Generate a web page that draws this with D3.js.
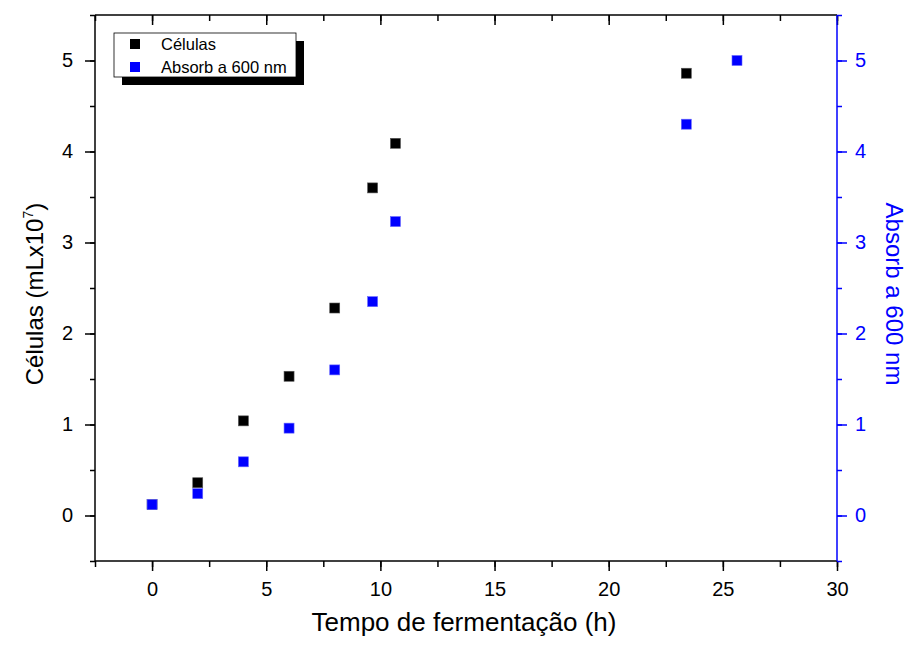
<!DOCTYPE html>
<html><head><meta charset="utf-8">
<script src="https://cdn.jsdelivr.net/npm/d3@7"></script>
<style>body{margin:0;background:#fff}svg{display:block}text{font-family:Arial,"Liberation Sans",sans-serif}</style>
</head><body><svg id="c" width="911" height="648"></svg>
<script>
const celulasX = [0, 2, 4, 6, 8, 9.66, 10.66, 23.4];
const celulasY = [0.12, 0.36, 1.04, 1.53, 2.28, 3.60, 4.09, 4.86];
const absorbX = [0, 2, 4, 6, 8, 9.66, 10.66, 23.4, 25.62];
const absorbY = [0.12, 0.24, 0.59, 0.96, 1.60, 2.35, 3.23, 4.30, 5.00];
const xTicks = [0, 5, 10, 15, 20, 25, 30];
const yTicks = [0, 1, 2, 3, 4, 5];
const legendLabels = ["Células", "Absorb a 600 nm"];

const svg = d3.select("#c");
const L = 95, R = 837, T = 15, B = 561;
const x = d3.scaleLinear().domain([-2.5, 30]).range([L, R]);
const y = d3.scaleLinear().domain([-0.5, 5.5]).range([B, T]);
const y2 = d3.scaleLinear().domain([-0.5, 5.5]).range([B, T]);

const xMinor = d3.range(-2.5, 30.01, 2.5);
const yMinor = d3.range(-0.5, 5.51, 0.5);
const FS = 20;

function styleAxis(g, color) {
  g.select(".domain").remove();
  g.selectAll("line").attr("stroke", color).attr("stroke-width", 1.5);
  g.selectAll("text").attr("fill", color).style("font-size", FS + "px");
}
// bottom minor + major
svg.append("g").attr("transform", `translate(0,${B})`)
  .call(d3.axisBottom(x).tickValues(xMinor).tickSize(6).tickFormat(""))
  .call(g => styleAxis(g, "#000"));
svg.append("g").attr("transform", `translate(0,${B})`)
  .call(d3.axisBottom(x).tickValues(xTicks).tickSize(10).tickPadding(11).tickFormat(d3.format("d")))
  .call(g => styleAxis(g, "#000"));
// top (inward)
svg.append("g").attr("transform", `translate(0,${T})`)
  .call(d3.axisBottom(x).tickValues(xMinor).tickSize(6).tickFormat(""))
  .call(g => styleAxis(g, "#000"));
svg.append("g").attr("transform", `translate(0,${T})`)
  .call(d3.axisBottom(x).tickValues(xTicks).tickSize(10).tickFormat(""))
  .call(g => styleAxis(g, "#000"));
// left
svg.append("g").attr("transform", `translate(${L},0)`)
  .call(d3.axisLeft(y).tickValues(yMinor).tickSize(5).tickFormat(""))
  .call(g => styleAxis(g, "#000"));
svg.append("g").attr("transform", `translate(${L},0)`)
  .call(d3.axisLeft(y).tickValues(yTicks).tickSize(10).tickPadding(12).tickFormat(d3.format("d")))
  .call(g => styleAxis(g, "#000"));
// right (blue)
svg.append("g").attr("transform", `translate(${R},0)`)
  .call(d3.axisRight(y2).tickValues(yMinor).tickSize(5).tickFormat(""))
  .call(g => styleAxis(g, "#0000ff"));
svg.append("g").attr("transform", `translate(${R},0)`)
  .call(d3.axisRight(y2).tickValues(yTicks).tickSize(10).tickPadding(8).tickFormat(d3.format("d")))
  .call(g => styleAxis(g, "#0000ff"));

// frame
svg.append("line").attr("x1", L).attr("x2", R).attr("y1", T).attr("y2", T).attr("stroke", "#000").attr("stroke-width", 1.5);
svg.append("line").attr("x1", L).attr("x2", R).attr("y1", B).attr("y2", B).attr("stroke", "#000").attr("stroke-width", 1.5);
svg.append("line").attr("x1", L).attr("x2", L).attr("y1", T).attr("y2", B).attr("stroke", "#000").attr("stroke-width", 1.5);
svg.append("line").attr("x1", R).attr("x2", R).attr("y1", T).attr("y2", B).attr("stroke", "#0000ff").attr("stroke-width", 1.5);

// data
const s = 10;
const cel = celulasX.map((d, i) => [d, celulasY[i]]);
const abs = absorbX.map((d, i) => [d, absorbY[i]]);
svg.append("g").selectAll("rect").data(cel).join("rect")
  .attr("x", d => x(d[0]) - s / 2).attr("y", d => y(d[1]) - s / 2)
  .attr("width", s).attr("height", s).attr("fill", "#000").attr("stroke", "#555").attr("stroke-width", 0.6);
svg.append("g").selectAll("rect").data(abs).join("rect")
  .attr("x", d => x(d[0]) - s / 2).attr("y", d => y2(d[1]) - s / 2)
  .attr("width", s).attr("height", s).attr("fill", "#0000ff").attr("stroke", "#6666ff").attr("stroke-width", 0.6);

// legend
const lg = svg.append("g");
lg.append("rect").attr("x", 122).attr("y", 41).attr("width", 182).attr("height", 44).attr("fill", "#000");
lg.append("rect").attr("x", 114).attr("y", 33).attr("width", 182).attr("height", 44).attr("fill", "#fff").attr("stroke", "#000").attr("stroke-width", 0.8);
const lcol = ["#000", "#0000ff"];
legendLabels.forEach((t, i) => {
  const cy = 44 + i * 23;
  lg.append("rect").attr("x", 130).attr("y", cy - 5).attr("width", 10).attr("height", 10).attr("fill", lcol[i]);
  lg.append("text").attr("x", 161).attr("y", cy + 6).style("font-size", "16.5px").attr("fill", "#000").text(t);
});

// axis titles
svg.append("text").attr("x", 464).attr("y", 631).attr("text-anchor", "middle").style("font-size", "26px").text("Tempo de fermentação (h)");
const lt = svg.append("text").attr("transform", "translate(43,294) rotate(-90)").attr("text-anchor", "middle").style("font-size", "24px");
lt.append("tspan").text("Células (mLx10");
lt.append("tspan").attr("dy", -10).style("font-size", "14px").text("7");
lt.append("tspan").attr("dy", 10).text(")");
svg.append("text").attr("transform", "translate(886,294) rotate(90)").attr("text-anchor", "middle").style("font-size", "24px").attr("fill", "#0000ff").text("Absorb a 600 nm");
</script></body></html>
